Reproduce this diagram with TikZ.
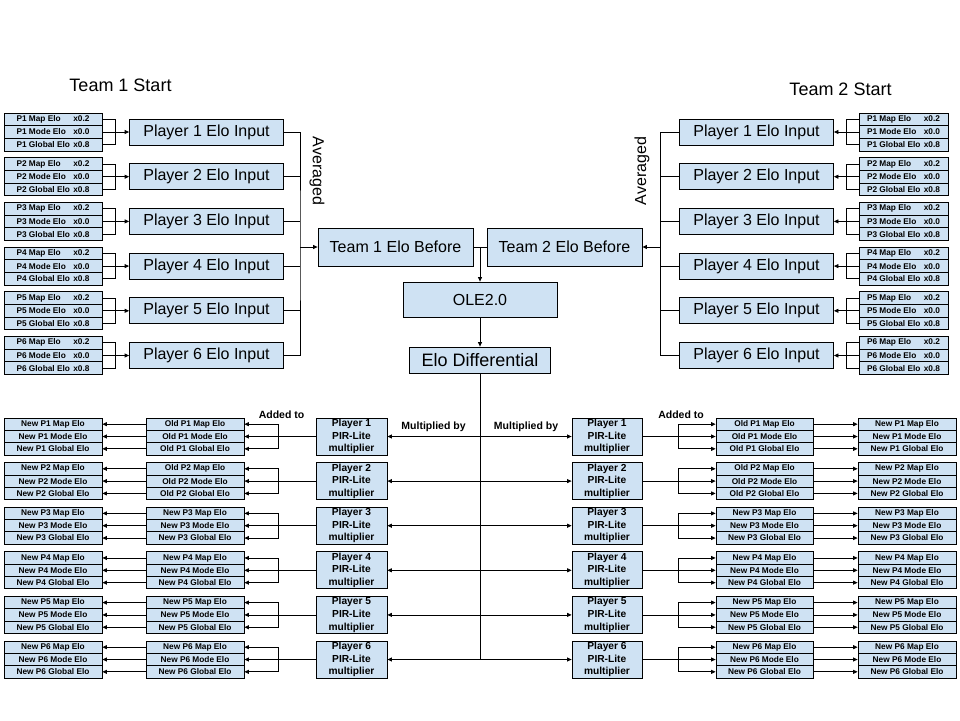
\documentclass[tikz,border=0pt]{standalone}
\usepackage{fontspec}
\setmainfont{Liberation Sans}
\usetikzlibrary{arrows.meta}
\definecolor{boxblue}{HTML}{CFE2F3}
\begin{document}
\begin{tikzpicture}[x=1pt,y=-1pt,
  base/.style={draw=black,fill=boxblue,line width=0.8pt,inner sep=0pt},
  smallrow/.style={base,minimum height=12.67pt,font=\bfseries\fontsize{8.3}{9}\selectfont},
  bigbox/.style={base,minimum height=26pt,minimum width=154pt,font=\fontsize{16}{19}\selectfont},
  pirbox/.style={base,minimum width=71pt,minimum height=37pt,align=center,font=\bfseries\fontsize{10.2}{12.6}\selectfont},
  conn/.style={line width=0.8pt},
  arr/.style={conn,-{Triangle[length=4.5pt,width=4pt]}},
  lbl/.style={font=\bfseries\fontsize{10.5}{12}\selectfont,inner sep=0pt},
  title/.style={font=\fontsize{18}{21}\selectfont,inner sep=0pt}
]
\useasboundingbox (0,0) rectangle (960,720);

% titles
\node[title] (ttl1) at (120.5,85.5) {Team 1 Start};
\node[title] (ttl2) at (840.5,89) {Team 2 Start};

% center nodes
\node[bigbox,minimum height=38pt,minimum width=155pt] (t1) at (395.5,247) {Team 1 Elo Before};
\node[bigbox,minimum height=38pt,minimum width=155pt] (t2) at (564.5,247) {Team 2 Elo Before};
\node[bigbox,minimum height=35pt,minimum width=154pt] (ole) at (480,299.5) {OLE2.0};
\node[bigbox,minimum height=26pt,minimum width=141pt,font=\fontsize{18}{21}\selectfont] (ed) at (480,360) {Elo Differential};

\draw[conn] (t1.east) -- (t2.west);
\draw[arr] (t1.east -| ole.north) -- (ole.north);
\draw[arr] (ole.south) -- (ed.north);

% top groups
\foreach \k in {1,...,6}{
  \pgfmathsetmacro\yt{113+(\k-1)*44.7}
  \foreach \r/\nm/\mult in {1/Map/x0.2,2/Mode/x0.0,3/Global/x0.8}{
    \pgfmathsetmacro\yr{\yt+6.33+(\r-1)*12.67}
    \node[smallrow,minimum width=98pt] (tl\k-\r) at (53,\yr) {\makebox[73pt]{P\k\ \nm\ Elo\hfill\mult}};
    \node[smallrow,minimum width=89pt] (tr\k-\r) at (903.5,\yr) {\makebox[73pt]{P\k\ \nm\ Elo\hfill\mult}};
  }
  \node[bigbox] (pl\k) at (206.5,\yt+19) {Player \k\ Elo Input};
  \node[bigbox] (pr\k) at (756.5,\yt+19) {Player \k\ Elo Input};
  \draw[conn] (tl\k-1.east) -- ++(13,0) |- (tl\k-3.east);
  \draw[arr] (tl\k-2.east) -- (pl\k.west);
  \draw[conn] (tr\k-1.west) -- ++(-12,0) |- (tr\k-3.west);
  \draw[arr] (tr\k-2.west) -- (pr\k.east);
}

% averaging brackets
\coordinate (avL) at (300,247);
\coordinate (avR) at (660,247);
\draw[conn] (pl1.east) -| (avL) |- (pl6.east);
\draw[conn] (pr1.west) -| (avR) |- (pr6.west);
\foreach \k in {2,...,5}{
  \draw[conn] (pl\k.east) -- (pl\k.east -| avL);
  \draw[conn] (pr\k.west) -- (pr\k.west -| avR);
}
\draw[arr] (avL) -- (t1.west);
\draw[arr] (avR) -- (t2.east);
\node[font=\fontsize{16}{19}\selectfont,rotate=-90,inner sep=0pt] (avgL) at (317,171) {Averaged};
\node[font=\fontsize{16}{19}\selectfont,rotate=90,inner sep=0pt] (avgR) at (642,171) {Averaged};

% bottom groups
\foreach \k in {1,...,6}{
  \pgfmathsetmacro\yb{418+(\k-1)*44.6}
  \ifnum\k<3 \def\pre{Old}\else\def\pre{New}\fi
  \foreach \r/\nm in {1/Map,2/Mode,3/Global}{
    \pgfmathsetmacro\yr{\yb+6.17+(\r-1)*12.33}
    \node[smallrow,minimum width=98pt,minimum height=12.33pt] (ln\k-\r) at (53,\yr) {New P\k\ \nm\ Elo};
    \node[smallrow,minimum width=98pt,minimum height=12.33pt] (lo\k-\r) at (195,\yr) {\pre\ P\k\ \nm\ Elo};
    \node[smallrow,minimum width=97pt,minimum height=12.33pt] (ro\k-\r) at (764.5,\yr) {\pre\ P\k\ \nm\ Elo};
    \node[smallrow,minimum width=98pt,minimum height=12.33pt] (rn\k-\r) at (907,\yr) {New P\k\ \nm\ Elo};
    \draw[arr] (lo\k-\r.west) -- (ln\k-\r.east);
    \draw[arr] (ro\k-\r.east) -- (rn\k-\r.west);
  }
  \node[pirbox] (lp\k) at (351.5,\yb+18.5) {Player \k\\PIR-Lite\\multiplier};
  \node[pirbox,minimum width=70pt] (rp\k) at (607,\yb+18.5) {Player \k\\PIR-Lite\\multiplier};
  \draw[arr] (lp\k.west) -- (lo\k-2.east);
  \draw[arr] (lp\k.west) ++(-37,0) |- (lo\k-1.east);
  \draw[arr] (lp\k.west) ++(-37,0) |- (lo\k-3.east);
  \draw[arr] (rp\k.east) -- (ro\k-2.west);
  \draw[arr] (rp\k.east) ++(36,0) |- (ro\k-1.west);
  \draw[arr] (rp\k.east) ++(36,0) |- (ro\k-3.west);
  \draw[arr] (ed.south |- lp\k.east) -- (lp\k.east);
  \draw[arr] (ed.south |- rp\k.west) -- (rp\k.west);
}
\draw[conn] (ed.south) -- (ed.south |- lp6.east);

% labels
\node[lbl] (mulL) at (433.5,427) {Multiplied by};
\node[lbl] (mulR) at (526,427) {Multiplied by};
\node[lbl] (addL) at (281.5,414.5) {Added to};
\node[lbl] (addR) at (681,414.5) {Added to};
\end{tikzpicture}
\end{document}
